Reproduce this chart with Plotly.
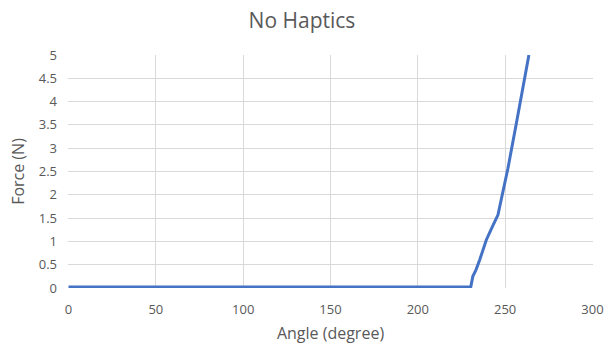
import plotly.graph_objects as go

angle = [0, 230.3, 231.5, 233.3, 235.4, 239.2, 242.5, 245.9, 247.3, 249.5, 251.6, 256.4, 260.0, 263.6]
force = [0.02, 0.02, 0.25, 0.39, 0.6, 1.03, 1.3, 1.57, 1.82, 2.2, 2.57, 3.53, 4.25, 5.0]

x_ticks = [0, 50, 100, 150, 200, 250, 300]
y_ticks = [0, 0.5, 1, 1.5, 2, 2.5, 3, 3.5, 4, 4.5, 5]
y_labels = ["0", "0.5", "1", "1.5", "2", "2.5", "3", "3.5", "4", "4.5", "5"]

fig = go.Figure(go.Scatter(x=angle, y=force, mode="lines",
                           line=dict(color="#4472C4", width=3)))

font = dict(family="Open Sans, Liberation Sans, sans-serif", color="#595959")
fig.update_layout(
    width=604, height=345,
    margin=dict(l=68, r=11, t=55, b=57, autoexpand=False),
    paper_bgcolor="white", plot_bgcolor="white",
    showlegend=False,
    title=dict(text="No Haptics", x=0.5, xanchor="center", y=0.94, yanchor="middle",
               font=dict(size=21, **font)),
    font=dict(size=13, **font),
)
fig.update_xaxes(range=[-0.3, 300.3], tickvals=x_ticks, showgrid=True, gridcolor="#D9D9D9",
                 zeroline=False, showline=False, ticks="", automargin=False,
                 ticklabeloverflow="allow",
                 ticklabelstandoff=12, tickfont=dict(size=13, **font),
                 title=dict(text="Angle (degree)", font=dict(size=16, **font), standoff=10))
fig.update_yaxes(range=[0, 5], tickvals=y_ticks, ticktext=y_labels, showgrid=True,
                 gridcolor="#D9D9D9", zeroline=False, showline=False, ticks="", automargin=False,
                 ticklabeloverflow="allow",
                 ticklabelstandoff=10, tickfont=dict(size=13, **font),
                 title=dict(text="Force (N)", font=dict(size=16, **font), standoff=10))
fig.write_html("out.html")
